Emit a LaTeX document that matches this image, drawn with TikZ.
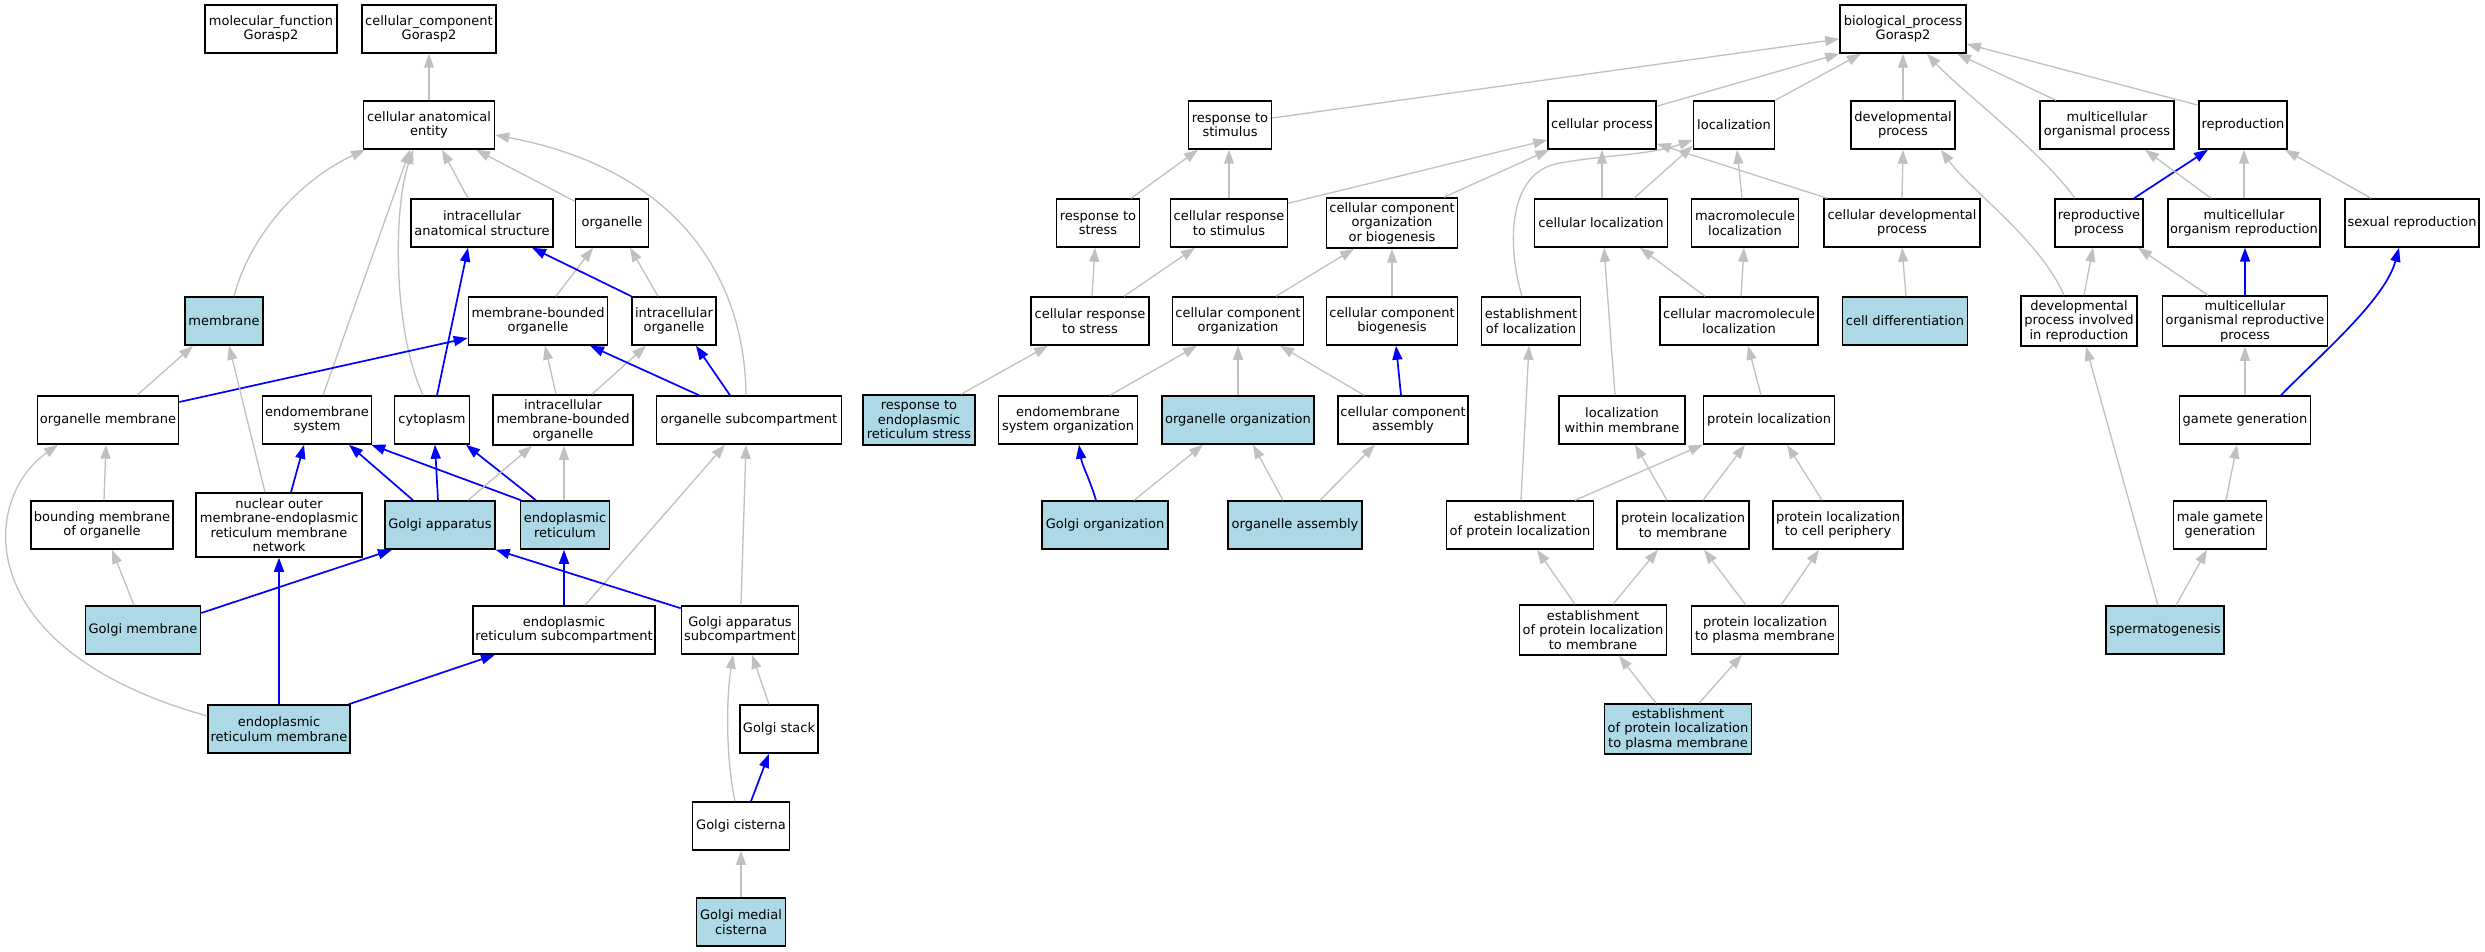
\documentclass[tikz,border=0pt]{standalone}
\usepackage{fontspec}
\setmainfont{DejaVu Sans}
\usetikzlibrary{arrows.meta}
\definecolor{edgegray}{RGB}{192,192,192}
\definecolor{hitblue}{RGB}{173,216,230}
\newcommand\gofont{\fontsize{13pt}{14.5pt}\selectfont}
\tikzset{
  box/.style={draw=black, line width=1.5pt, fill=white, align=center, inner sep=0pt, minimum height=48pt, font=\gofont},
  hit/.style={box, fill=hitblue},
  bw/.style={minimum width=#1pt},
  bh/.style={minimum height=#1pt},
  ge/.style={draw=edgegray, line width=1.3pt, -{Triangle[length=14pt,width=10pt]}},
  be/.style={draw=blue, line width=1.7pt, -{Triangle[length=14pt,width=10pt]}},
}
\begin{document}
\begin{tikzpicture}[x=1pt,y=-1pt]
\useasboundingbox[fill=white] (0,0) rectangle (2485,952);
% row 1
\node[box,bw=132] (mf) at (271,29) {molecular\_function\\Gorasp2};
\node[box,bw=134] (ccomp) at (429,29) {cellular\_component\\Gorasp2};
\node[box,bw=126] (bp) at (1903,29) {biological\_process\\Gorasp2};
% row 2
\node[box,bw=131] (cae) at (429,125) {cellular anatomical\\entity};
\node[box,bw=83] (rstim) at (1230,125) {response to\\stimulus};
\node[box,bw=108] (cp) at (1602,125) {cellular process};
\node[box,bw=81] (loc) at (1734,125) {localization};
\node[box,bw=104] (dp) at (1903,125) {developmental\\process};
\node[box,bw=134] (mop) at (2107,125) {multicellular\\organismal process};
\node[box,bw=88] (repro) at (2243,125) {reproduction};
% row 3
\node[box,bw=142] (ias) at (482,223) {intracellular\\anatomical structure};
\node[box,bw=73] (org) at (612,223) {organelle};
\node[box,bw=83] (rstr) at (1098,223) {response to\\stress};
\node[box,bw=117] (crs) at (1229,223) {cellular response\\to stimulus};
\node[box,bw=131,bh=50] (ccob) at (1392,223) {cellular component\\organization\\or biogenesis};
\node[box,bw=133] (cl) at (1601,223) {cellular localization};
\node[box,bw=107] (ml) at (1745,223) {macromolecule\\localization};
\node[box,bw=156] (cdp) at (1902,223) {cellular developmental\\process};
\node[box,bw=88] (rp) at (2099,223) {reproductive\\process};
\node[box,bw=152] (mor) at (2244,223) {multicellular\\organism reproduction};
\node[box,bw=134] (sr) at (2412,223) {sexual reproduction};
% row 4
\node[hit,bw=78] (membrane) at (224,321) {membrane};
\node[box,bw=139] (mbo) at (538,321) {membrane-bounded\\organelle};
\node[box,bw=84] (io) at (674,321) {intracellular\\organelle};
\node[box,bw=118] (crstr) at (1090,321) {cellular response\\to stress};
\node[box,bw=131] (ccorg) at (1238,321) {cellular component\\organization};
\node[box,bw=131] (ccbio) at (1392,321) {cellular component\\biogenesis};
\node[box,bw=99] (el) at (1531,321) {establishment\\of localization};
\node[box,bw=158] (cml) at (1739,321) {cellular macromolecule\\localization};
\node[hit,bw=125] (cdiff) at (1905,321) {cell differentiation};
\node[box,bw=116,bh=50] (dpir) at (2079,321) {developmental\\process involved\\in reproduction};
\node[box,bw=165,bh=50] (morp) at (2245,321) {multicellular\\organismal reproductive\\process};
% row 5
\node[box,bw=141] (om) at (108,420) {organelle membrane};
\node[box,bw=109] (ems) at (317,420) {endomembrane\\system};
\node[box,bw=75] (cyto) at (432,420) {cytoplasm};
\node[box,bw=140,bh=50] (imbo) at (563,420) {intracellular\\membrane-bounded\\organelle};
\node[box,bw=185] (osc) at (749,420) {organelle subcompartment};
\node[hit,bw=112,bh=50] (rers) at (919,420) {response to\\endoplasmic\\reticulum stress};
\node[box,bw=139] (emso) at (1068,420) {endomembrane\\system organization};
\node[hit,bw=152] (oo) at (1238,420) {organelle organization};
\node[box,bw=130] (cca) at (1403,420) {cellular component\\assembly};
\node[box,bw=126] (lwm) at (1622,420) {localization\\within membrane};
\node[box,bw=131] (pl) at (1769,420) {protein localization};
\node[box,bw=131] (gg) at (2245,420) {gamete generation};
% row 6
\node[box,bw=142] (bmo) at (102,525) {bounding membrane\\of organelle};
\node[box,bw=166,bh=64] (nomer) at (279,525) {nuclear outer\\membrane-endoplasmic\\reticulum membrane\\network};
\node[hit,bw=110] (ga) at (440,525) {Golgi apparatus};
\node[hit,bw=89] (er) at (565,525) {endoplasmic\\reticulum};
\node[hit,bw=126] (go) at (1105,525) {Golgi organization};
\node[hit,bw=134] (oa) at (1295,525) {organelle assembly};
\node[box,bw=147] (epl) at (1520,525) {establishment\\of protein localization};
\node[box,bw=132] (pltm) at (1683,525) {protein localization\\to membrane};
\node[box,bw=130] (pltcp) at (1838,525) {protein localization\\to cell periphery};
\node[box,bw=93] (mgg) at (2220,525) {male gamete\\generation};
% row 7
\node[hit,bw=115] (gm) at (143,630) {Golgi membrane};
\node[box,bw=182] (ersub) at (564,630) {endoplasmic\\reticulum subcompartment};
\node[box,bw=117] (gas) at (740,630) {Golgi apparatus\\subcompartment};
\node[box,bw=147,bh=50] (eplm) at (1593,630) {establishment\\of protein localization\\to membrane};
\node[box,bw=147] (pltpm) at (1765,630) {protein localization\\to plasma membrane};
\node[hit,bw=118] (sperm) at (2165,630) {spermatogenesis};
% row 8
\node[hit,bw=142] (erm) at (279,729) {endoplasmic\\reticulum membrane};
\node[box,bw=78] (gs) at (779,729) {Golgi stack};
\node[hit,bw=147,bh=50] (epltpm) at (1678,729) {establishment\\of protein localization\\to plasma membrane};
% rows 9-10
\node[box,bw=97] (gc) at (741,826) {Golgi cisterna};
\node[hit,bw=89] (gmc) at (741,922) {Golgi medial\\cisterna};

% ---- cellular component edges
\draw[ge] (cae.north) -- (ccomp.south);
\draw[ge] ([xshift=10pt]membrane.north) .. controls (250,235) and (300,180) .. ([xshift=-64pt]cae.south);
\draw[ge] ([xshift=6pt]ems.north) -- ([xshift=-19pt]cae.south);
\draw[ge] ([xshift=-9pt]cyto.north) .. controls (393,330) and (393,210) .. ([xshift=-16pt]cae.south);
\draw[ge] ([xshift=-14pt]ias.north) -- ([xshift=13pt]cae.south);
\draw[ge] ([yshift=-3pt]org.north west) -- ([xshift=47pt]cae.south);
\draw[ge] ([xshift=-3pt]osc.north) .. controls (745,280) and (680,170) .. ([yshift=-10pt]cae.east);
\draw[ge] ([xshift=18pt]mbo.north) -- ([xshift=-19pt]org.south);
\draw[ge] ([xshift=-16pt]io.north) -- ([xshift=18pt]org.south);
\draw[be] (io.north west) -- ([xshift=50pt]ias.south);
\draw[be] ([xshift=5pt]cyto.north) -- ([xshift=-14pt]ias.south);
\draw[ge] ([xshift=29pt]om.north) -- ([xshift=-31pt]membrane.south);
\draw[be] ([yshift=18pt]om.east) -- ([yshift=-17pt]mbo.west);
\draw[ge] ([xshift=-7pt]imbo.north) -- ([xshift=7pt]mbo.south);
\draw[ge] ([xshift=29pt]imbo.north) -- ([xshift=-28pt]io.south);
\draw[be] ([xshift=-50pt]osc.north) -- ([xshift=52pt]mbo.south);
\draw[be] ([xshift=-19pt]osc.north) -- ([xshift=22pt]io.south);
\draw[ge] ([xshift=-14pt]nomer.north) -- ([xshift=5pt]membrane.south);
\draw[be] ([xshift=12pt]nomer.north) -- ([xshift=-13pt]ems.south);
\draw[be] ([xshift=-27pt]ga.north) -- ([xshift=32pt]ems.south);
\draw[be] ([xshift=-2pt]ga.north) -- ([xshift=3pt]cyto.south);
\draw[be] ([xshift=-44pt]er.north) -- ([xshift=-1pt]ems.south east);
\draw[be] ([xshift=-29pt]er.north) -- ([xshift=34pt]cyto.south);
\draw[ge] ([xshift=28pt]ga.north) -- ([xshift=-31pt]imbo.south);
\draw[ge] ([xshift=-1pt]er.north) -- ([xshift=1pt]imbo.south);
\draw[ge] ([yshift=13pt]erm.west) .. controls (-30,650) and (-20,500) .. ([xshift=-50pt]om.south);
\draw[ge] ([xshift=2pt]bmo.north) -- ([xshift=-2pt]om.south);
\draw[ge] ([xshift=-9pt]gm.north) -- ([xshift=10pt]bmo.south);
\draw[be] ([yshift=17pt]gm.east) -- ([xshift=-48pt]ga.south);
\draw[be] (erm.north) -- (nomer.south);
\draw[be] ([xshift=-2pt]erm.north east) -- ([xshift=-69pt]ersub.south);
\draw[be] (ersub.north) -- ([xshift=-1pt]er.south);
\draw[ge] ([xshift=21pt]ersub.north) -- ([xshift=-24pt]osc.south);
\draw[be] ([yshift=-3pt]gas.north west) -- (ga.south east);
\draw[ge] ([xshift=1pt]gas.north) -- ([xshift=-3pt]osc.south);
\draw[ge] ([xshift=-10pt]gs.north) -- ([xshift=12pt]gas.south);
\draw[ge] ([xshift=-6pt]gc.north) .. controls (726,760) and (726,700) .. ([xshift=-7pt]gas.south);
\draw[be] ([xshift=10pt]gc.north) -- ([xshift=-10pt]gs.south);
\draw[ge] (gmc.north) -- (gc.south);

% ---- biological process edges
\draw[ge] ([yshift=7pt]rstim.east) -- ([yshift=-10pt]bp.west);
\draw[ge] ([yshift=-6pt]cp.north east) -- (bp.south west);
\draw[ge] (loc.north east) -- ([xshift=-42pt]bp.south);
\draw[ge] (dp.north) -- (bp.south);
\draw[ge] ([xshift=-24pt]rp.north) .. controls (2040,150) and (1960,90) .. ([xshift=24pt]bp.south);
\draw[ge] ([xshift=-51pt]mop.north) -- ([xshift=54pt]bp.south);
\draw[ge] ([yshift=-5pt]repro.north west) -- ([yshift=-15pt]bp.east);
\draw[ge] (crs.north) -- ([xshift=-1pt]rstim.south);
\draw[ge] ([xshift=33pt]rstr.north) -- ([xshift=-32pt]rstim.south);
\draw[ge] ([yshift=-5pt]crs.north east) -- ([yshift=-15pt]cp.west);
\draw[ge] ([xshift=52pt]ccob.north) -- ([xshift=2pt]cp.south west);
\draw[ge] ([xshift=1pt]cl.north) -- (cp.south);
\draw[ge] ([xshift=33pt]cl.north) -- ([yshift=4pt]loc.south west);
\draw[ge] ([xshift=-9pt]el.north) .. controls (1508,250) and (1505,172) .. (1560,163) .. controls (1605,155) and (1650,155) .. ([yshift=-15pt]loc.west);
\draw[ge] ([xshift=-3pt]ml.north) -- ([xshift=3pt]loc.south);
\draw[ge] ([xshift=1pt]cdiff.north) -- (cdp.south);
\draw[ge] (cdp.north) -- (dp.south);
\draw[ge] ([xshift=4pt]cdp.north west) -- ([yshift=6pt]cp.south east);
\draw[ge] ([xshift=-15pt]dpir.north) .. controls (2040,240) and (1970,190) .. ([xshift=38pt]dp.south);
\draw[ge] ([xshift=5pt]dpir.north) -- ([xshift=-6pt]rp.south);
\draw[be] ([xshift=35pt]rp.north) -- ([xshift=-35pt]repro.south);
\draw[ge] ([xshift=-33pt]mor.north) -- ([xshift=38pt]mop.south);
\draw[ge] (mor.north) -- ([xshift=1pt]repro.south);
\draw[ge] ([xshift=-41pt]sr.north) -- ([xshift=42pt]repro.south);
\draw[be] (morp.north) -- ([xshift=1pt]mor.south);
\draw[ge] ([xshift=-37pt]morp.north) -- ([xshift=39pt]rp.south);
\draw[ge] (gg.north) -- (morp.south);
\draw[be] ([xshift=36pt]gg.north) .. controls (2320,355) and (2385,300) .. ([xshift=-13pt]sr.south);
\draw[ge] ([xshift=6pt]mgg.north) -- ([xshift=-8pt]gg.south);
\draw[ge] ([xshift=11pt]sperm.north) -- ([xshift=-13pt]mgg.south);
\draw[ge] ([xshift=-7pt]sperm.north) -- ([xshift=7pt]dpir.south);
\draw[ge] ([xshift=2pt]cml.north) -- ([xshift=-1pt]ml.south);
\draw[ge] ([xshift=-34pt]cml.north) -- ([xshift=39pt]cl.south);
\draw[ge] ([xshift=-7pt]lwm.north) -- ([xshift=3pt]cl.south);
\draw[ge] ([xshift=-8pt]pl.north) -- ([xshift=9pt]cml.south);
\draw[ge] ([xshift=1pt]epl.north) -- ([xshift=-2pt]el.south);
\draw[ge] ([xshift=55pt]epl.north) -- (pl.south west);
\draw[ge] ([xshift=20pt]pltm.north) -- ([xshift=-24pt]pl.south);
\draw[ge] ([xshift=-16pt]pltm.north) -- ([xshift=13pt]lwm.south);
\draw[ge] ([xshift=-16pt]pltcp.north) -- ([xshift=18pt]pl.south);
\draw[ge] ([xshift=-18pt]eplm.north) -- ([xshift=17pt]epl.south);
\draw[ge] ([xshift=20pt]eplm.north) -- ([xshift=-25pt]pltm.south);
\draw[ge] ([xshift=-19pt]pltpm.north) -- ([xshift=21pt]pltm.south);
\draw[ge] ([xshift=16pt]pltpm.north) -- ([xshift=-19pt]pltcp.south);
\draw[ge] ([xshift=-22pt]epltpm.north) -- ([xshift=26pt]eplm.south);
\draw[ge] ([xshift=21pt]epltpm.north) -- ([xshift=-23pt]pltpm.south);
\draw[ge] ([xshift=2pt]crstr.north) -- ([xshift=-3pt]rstr.south);
\draw[ge] ([xshift=34pt]crstr.north) -- ([xshift=-34pt]crs.south);
\draw[ge] ([xshift=38pt]ccorg.north) -- ([xshift=-38pt]ccob.south);
\draw[ge] (ccbio.north) -- (ccob.south);
\draw[ge] ([xshift=42pt]rers.north) -- ([xshift=-42pt]crstr.south);
\draw[ge] ([xshift=42pt]emso.north) -- ([xshift=-41pt]ccorg.south);
\draw[ge] (oo.north) -- (ccorg.south);
\draw[ge] ([xshift=-39pt]cca.north) -- ([xshift=42pt]ccorg.south);
\draw[be] ([xshift=-2pt]cca.north) -- ([xshift=4pt]ccbio.south);
\draw[be] ([xshift=-9pt]go.north) .. controls (1090,480) and (1082,465) .. ([xshift=11pt]emso.south);
\draw[ge] ([xshift=29pt]go.north) -- ([xshift=-35pt]oo.south);
\draw[ge] ([xshift=-12pt]oa.north) -- ([xshift=15pt]oo.south);
\draw[ge] ([xshift=25pt]oa.north) -- ([xshift=-28pt]cca.south);
\end{tikzpicture}
\end{document}
